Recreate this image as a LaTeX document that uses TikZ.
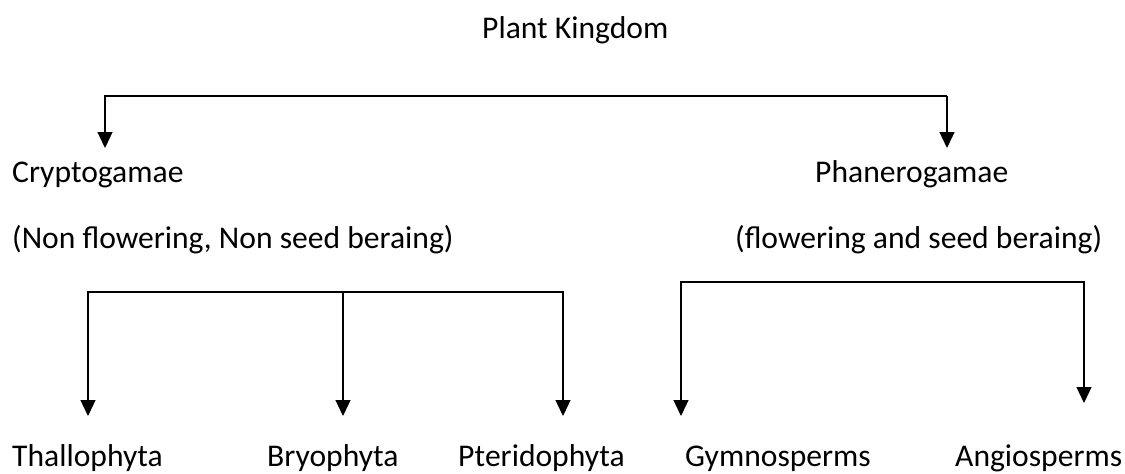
\documentclass[tikz,border=0pt]{standalone}
\usepackage{fontspec}
\setmainfont{Carlito}
\usetikzlibrary{arrows.meta}
\begin{document}
\begin{tikzpicture}[x=1pt,y=-1pt,
  lbl/.style={anchor=base west,inner sep=0pt,font=\fontsize{31.6}{36}\selectfont},
  conn/.style={line width=1.3pt,line cap=rect},
  arr/.style={line width=1.3pt,-{Triangle[length=16pt,width=15pt]}}]
\useasboundingbox (0,0) rectangle (1125,474);
% texts
\node[lbl] (pk) at (482,38) {Plant Kingdom};
\node[lbl] (cr) at (12,182) {Cryptogamae};
\node[lbl] (ph) at (815,182) {Phanerogamae};
\node[lbl] (crd) at (12,248) {(Non flowering, Non seed beraing)};
\node[lbl] (phd) at (735,248) {(flowering and seed beraing)};
\node[lbl] (th) at (12,466) {Thallophyta};
\node[lbl] (br) at (267,466) {Bryophyta};
\node[lbl] (pt) at (458,466) {Pteridophyta};
\node[lbl] (gy) at (685,466) {Gymnosperms};
\node[lbl] (an) at (955,466) {Angiosperms};
% top bracket
\coordinate (t1) at (105,96);
\coordinate (t2) at (947,96);
\coordinate (t1e) at (105,148);
\coordinate (t2e) at (947,148);
\draw[arr] (t2) -- (t1) -- (t1e);
\draw[arr] (t2) -- (t2e);
% lower left bracket
\coordinate (l1) at (88,292);
\coordinate (l2) at (343,292);
\coordinate (l3) at (563,292);
\coordinate (l1e) at (88,416);
\coordinate (l2e) at (343,416);
\coordinate (l3e) at (563,416);
\draw[conn] (l1) -- (l3);
\draw[arr] (l1) -- (l1e);
\draw[arr] (l2) -- (l2e);
\draw[arr] (l3) -- (l3e);
% lower right bracket
\coordinate (r1) at (681,282);
\coordinate (r2) at (1084,282);
\coordinate (r1e) at (681,416);
\coordinate (r2e) at (1084,403);
\draw[arr] (r2) -- (r1) -- (r1e);
\draw[arr] (r1) -- (r2) -- (r2e);
\end{tikzpicture}
\end{document}
